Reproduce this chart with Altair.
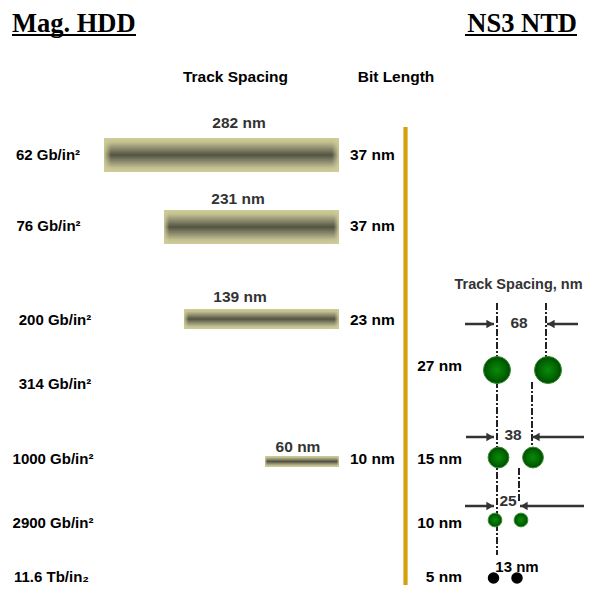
import altair as alt
import pandas as pd

# ---------------- data ----------------
densities = ["62 Gb/in²", "76 Gb/in²", "200 Gb/in²", "314 Gb/in²",
             "1000 Gb/in²", "2900 Gb/in²", "11.6 Tb/in₂"]
hdd_track_nm = [282, 231, 139, None, 60, None, None]
hdd_bit_nm = [37, 37, 23, None, 10, None, None]
ntd_bit_nm = [None, None, None, 27, 15, 10, 5]
ntd_track_nm = [None, None, None, 68, 38, 25, 13]

# ---------------- layout (reference pixel space) ----------------
row_y = [155, 226, 320, 384, 459, 523, 576.5]
row_label_x = [48, 48.5, 55, 55, 53, 53, 51.5]
bar_left = [104, 164, 184, None, 265, None, None]
bar_right = 339
bar_top = [138, 210, 309, None, 456, None, None]
bar_bottom = [172, 244, 329, None, 467, None, None]
bar_label_xy = [(239, 123), (238, 199), (240, 297), None, (298, 447), None, None]

dot_left_x = [None, None, None, 497, 498.5, 495, 493.5]
dot_right_x = [None, None, None, 548, 533, 521, 517]
dot_y = [None, None, None, 370, 457.5, 520, 578]
dot_diam = [None, None, None, 30.5, 23.5, 15.5, 13]

X = alt.Scale(domain=[8, 584])
Y = alt.Scale(domain=[8, 585], reverse=True)
W, H = 576, 577


def text_layer(df, size, color="#000000", align="center",
               font="Liberation Sans", weight="bold"):
    return alt.Chart(df).mark_text(
        fontSize=size, color=color, align=align, baseline="middle",
        font=font, fontWeight=weight
    ).encode(
        x=alt.X("x:Q", scale=X, axis=None),
        y=alt.Y("y:Q", scale=Y, axis=None),
        text="t:N",
    )


# ---------- titles ----------
titles = pd.DataFrame({"x": [12, 577], "y": [24, 24], "t": ["Mag. HDD", "NS3 NTD"]})
title_left = text_layer(titles.iloc[[0]], 26.5, align="left", font="Liberation Serif")
title_right = text_layer(titles.iloc[[1]], 26.5, align="right", font="Liberation Serif")
underl = pd.DataFrame({"x": [12, 465], "x2": [136, 577], "y": [35, 35]})
underlines = alt.Chart(underl).mark_rule(color="#000000", strokeWidth=2.2).encode(
    x=alt.X("x:Q", scale=X, axis=None), x2="x2:Q",
    y=alt.Y("y:Q", scale=Y, axis=None))

heads = pd.DataFrame({"x": [235.5, 396], "y": [77, 77], "t": ["Track Spacing", "Bit Length"]})
head_layer = text_layer(heads, 15.5)

# ---------- row labels ----------
row_df = pd.DataFrame({"x": row_label_x, "y": row_y, "t": densities})
row_layer = text_layer(row_df, 15)

# ---------- HDD bars ----------
bars = []
for i, v in enumerate(hdd_track_nm):
    if v is not None:
        bars.append({"x": bar_left[i], "x2": bar_right,
                     "y": bar_top[i], "y2": bar_bottom[i],
                     "nm": v})
bar_df = pd.DataFrame(bars)
khaki = "#cfcc98"
vgrad = alt.Gradient(
    gradient="linear", x1=0, x2=0, y1=0, y2=1,
    stops=[
        alt.GradientStop(offset=0, color=khaki),
        alt.GradientStop(offset=0.12, color="#c4c290"),
        alt.GradientStop(offset=0.33, color="#85846a"),
        alt.GradientStop(offset=0.5, color="#535341"),
        alt.GradientStop(offset=0.67, color="#85846a"),
        alt.GradientStop(offset=0.88, color="#c4c290"),
        alt.GradientStop(offset=1, color=khaki),
    ])
hgrad = alt.Gradient(
    gradient="linear", x1=0, x2=1, y1=0, y2=0,
    stops=[
        alt.GradientStop(offset=0, color="rgba(207,204,152,0.95)"),
        alt.GradientStop(offset=0.03, color="rgba(207,204,152,0)"),
        alt.GradientStop(offset=0.97, color="rgba(207,204,152,0)"),
        alt.GradientStop(offset=1, color="rgba(207,204,152,0.95)"),
    ])
bar_enc = dict(x=alt.X("x:Q", scale=X, axis=None), x2="x2:Q",
               y=alt.Y("y:Q", scale=Y, axis=None), y2="y2:Q")
bar_layer = alt.Chart(bar_df).mark_rect(color=vgrad).encode(**bar_enc)
bar_fade = alt.Chart(bar_df).mark_rect(color=hgrad).encode(**bar_enc)

bl = []
for i, v in enumerate(hdd_track_nm):
    if v is not None:
        bl.append({"x": bar_label_xy[i][0], "y": bar_label_xy[i][1], "t": f"{v} nm"})
bar_lab_layer = text_layer(pd.DataFrame(bl), 15.5, color="#333333")

bit = []
for i, v in enumerate(hdd_bit_nm):
    if v is not None:
        bit.append({"x": 350, "y": row_y[i], "t": f"{v} nm"})
bit_layer = text_layer(pd.DataFrame(bit), 15.5, align="left")

# ---------- gold divider ----------
gold = alt.Chart(pd.DataFrame({"x": [405.5], "y": [127], "y2": [593]})).mark_rule(
    color="#d4a00c", strokeWidth=4.2).encode(
    x=alt.X("x:Q", scale=X, axis=None),
    y=alt.Y("y:Q", scale=Y, axis=None), y2="y2:Q")

# ---------- NTD side ----------
ts_layer = text_layer(pd.DataFrame({"x": [518.5], "y": [285], "t": ["Track Spacing, nm"]}),
                      14.5, color="#333333")

nb = []
for i, v in enumerate(ntd_bit_nm):
    if v is not None:
        nb.append({"x": 462, "y": row_y[i] if i != 3 else 366, "t": f"{v} nm"})
nb_layer = text_layer(pd.DataFrame(nb), 15.5, align="right")

# dash-dot guide lines
guides = pd.DataFrame({"x": [497, 546, 532, 519],
                       "y": [303, 303, 382, 468],
                       "y2": [555, 372, 445, 502]})
guide_layer = alt.Chart(guides).mark_rule(
    color="#222222", strokeWidth=2, strokeDash=[7, 2, 2, 2]).encode(
    x=alt.X("x:Q", scale=X, axis=None),
    y=alt.Y("y:Q", scale=Y, axis=None), y2="y2:Q")

# arrows
arrows = pd.DataFrame({
    "x": [465, 578, 466, 592, 465, 588],
    "tip": [494, 547, 494, 532, 494, 520],
    "y": [324, 324, 437, 437, 506, 506],
    "dir": ["r", "l", "r", "l", "r", "l"],
})
arrow_lines = alt.Chart(arrows).mark_rule(color="#333333", strokeWidth=2.5).encode(
    x=alt.X("x:Q", scale=X, axis=None), x2="tip:Q",
    y=alt.Y("y:Q", scale=Y, axis=None))
ar = arrows.copy()
ar["hx"] = [t - 4 if d == "r" else t + 4 for t, d in zip(ar["tip"], ar["dir"])]
head_r = alt.Chart(ar[ar["dir"] == "r"]).mark_point(
    shape="triangle-right", filled=True, color="#333333", size=70, opacity=1).encode(
    x=alt.X("hx:Q", scale=X, axis=None), y=alt.Y("y:Q", scale=Y, axis=None))
head_l = alt.Chart(ar[ar["dir"] == "l"]).mark_point(
    shape="triangle-left", filled=True, color="#333333", size=70, opacity=1).encode(
    x=alt.X("hx:Q", scale=X, axis=None), y=alt.Y("y:Q", scale=Y, axis=None))

ts_vals = pd.DataFrame({"x": [519, 513, 508], "y": [323, 435, 501],
                        "t": [str(v) for v in ntd_track_nm[3:6]]})
ts_val_layer = text_layer(ts_vals, 15.5, color="#333333")
nm13 = text_layer(pd.DataFrame({"x": [517], "y": [567], "t": [f"{ntd_track_nm[6]} nm"]}),
                  15)

# dots
dots = []
for i, v in enumerate(ntd_bit_nm):
    if v is not None:
        for xx in (dot_left_x[i], dot_right_x[i]):
            dots.append({"x": xx, "y": dot_y[i], "s": 3.14159 * (dot_diam[i] / 2) ** 2,
                         "nm": v})
dot_df = pd.DataFrame(dots)
rgrad = alt.Gradient(
    gradient="radial", x1=0.5, y1=0.5, r1=0, x2=0.5, y2=0.5, r2=0.5,
    stops=[
        alt.GradientStop(offset=0, color="#0a8a0a"),
        alt.GradientStop(offset=0.6, color="#026a02"),
        alt.GradientStop(offset=1, color="#014a01"),
    ])
green = alt.Chart(dot_df[dot_df["nm"] > 5]).mark_circle(
    color=rgrad, opacity=1, stroke="#2f8f2f", strokeWidth=1).encode(
    x=alt.X("x:Q", scale=X, axis=None), y=alt.Y("y:Q", scale=Y, axis=None),
    size=alt.Size("s:Q", scale=None))
black = alt.Chart(dot_df[dot_df["nm"] == 5]).mark_circle(
    color="#000000", opacity=1).encode(
    x=alt.X("x:Q", scale=X, axis=None), y=alt.Y("y:Q", scale=Y, axis=None),
    size=alt.Size("s:Q", scale=None))

chart = alt.layer(
    title_left, title_right, underlines, head_layer, row_layer,
    bar_layer, bar_fade, bar_lab_layer, bit_layer, gold,
    ts_layer, nb_layer, guide_layer, arrow_lines, head_r, head_l,
    green, black, ts_val_layer, nm13,
).properties(
    width=W, height=H, padding=0, autosize=alt.AutoSizeParams(type="none")
).configure_view(stroke=None)

chart.save("out.html", embed_options={"renderer": "svg", "actions": False})
